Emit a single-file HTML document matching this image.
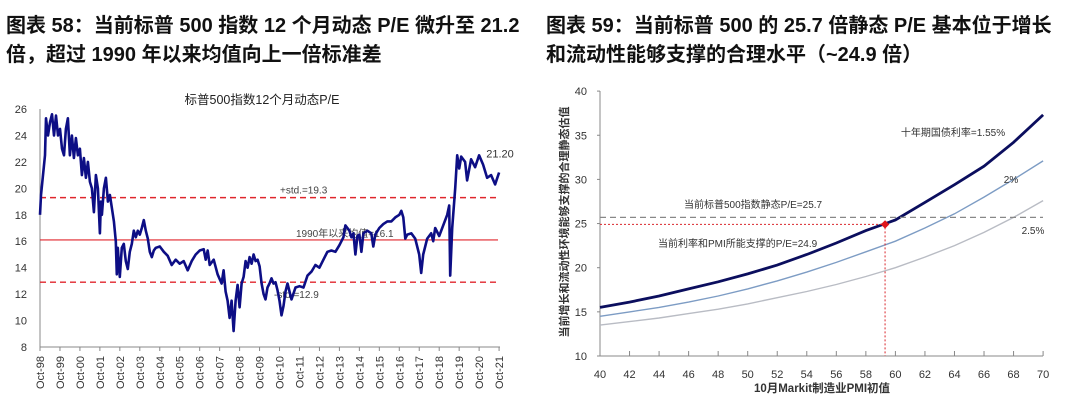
<!DOCTYPE html>
<html><head><meta charset="utf-8">
<style>
body{margin:0;background:#fff;width:1074px;height:407px;overflow:hidden;font-family:"Liberation Sans","Noto Sans CJK SC",sans-serif}
.h{position:absolute;font-weight:bold;font-size:20px;color:#111;white-space:nowrap;letter-spacing:0px}
svg{position:absolute;left:0;top:0}
</style></head><body>
<div class="h" style="left:6px;top:9px">图表 58：当前标普 500 指数 12 个月动态 P/E 微升至 21.2</div>
<div class="h" style="left:6px;top:38px">倍，超过 1990 年以来均值向上一倍标准差</div>
<div class="h" style="left:546px;top:9px">图表 59：当前标普 500 的 25.7 倍静态 P/E 基本位于增长</div>
<div class="h" style="left:546px;top:38px">和流动性能够支撑的合理水平（~24.9 倍）</div>
<svg id="c" width="1074" height="407" font-family="Liberation Sans, Noto Sans CJK SC, sans-serif"></svg>
<script>
// Left chart data: [years since Oct-98, P/E]
const peT=[0,0.05,0.15,0.25,0.3,0.4,0.5,0.6,0.7,0.8,0.9,1.0,1.1,1.2,1.3,1.4,1.5,1.6,1.7,1.8,1.9,2.0,2.1,2.2,2.3,2.4,2.5,2.6,2.7,2.8,2.9,3.0,3.05,3.1,3.2,3.3,3.4,3.5,3.6,3.7,3.8,3.85,3.9,4.0,4.1,4.2,4.3,4.4,4.5,4.6,4.7,4.8,4.9,5.0,5.1,5.2,5.3,5.4,5.5,5.6,5.7,5.8,6.0,6.2,6.4,6.6,6.8,7.0,7.2,7.4,7.6,7.8,8.0,8.2,8.3,8.4,8.5,8.7,8.9,9.1,9.2,9.3,9.4,9.5,9.6,9.7,9.8,9.9,10.0,10.1,10.2,10.3,10.4,10.5,10.6,10.7,10.8,10.9,11.0,11.1,11.2,11.3,11.4,11.5,11.6,11.7,11.8,11.9,12.0,12.1,12.2,12.3,12.4,12.5,12.6,12.8,13.0,13.2,13.4,13.6,13.8,14.0,14.2,14.4,14.6,14.8,15.0,15.2,15.3,15.5,15.6,15.7,15.8,15.9,16.0,16.1,16.2,16.4,16.6,16.7,16.8,17.0,17.2,17.4,17.6,17.8,18.0,18.1,18.2,18.3,18.4,18.6,18.8,19.0,19.1,19.2,19.4,19.6,19.7,19.8,20.0,20.2,20.4,20.5,20.55,20.65,20.8,20.9,21.0,21.1,21.3,21.4,21.6,21.8,22.0,22.2,22.4,22.6,22.8,23.0];
const peV=[18.0,19.5,21,22.5,25.3,24,25,25.6,24,25.5,24,24.5,23,22.5,24.5,25.3,22.5,24,22.3,23.8,22.5,23,21,22.3,20.8,22,20.5,20,18.2,21,20,16.6,19,18,20,20.8,19,19.5,18.5,17.5,16,13.5,15.5,13.3,15.5,15.8,14.5,13.9,15.2,15.8,16.8,16.3,16.8,16.5,17,17.6,16.8,16.2,15.2,14.8,15.3,15.5,15.6,15.2,14.9,14.2,14.6,14.3,14.5,13.8,14.5,15,15.3,15.4,14.6,15.3,14.2,14.6,13.5,12.8,13.8,12.2,11.5,10.2,11.5,9.2,11.5,12.7,11.0,12.8,13.3,14.5,14,14.8,14.3,15,14.5,14.6,14.1,12.8,12,11.6,12.5,12.8,13.2,12.8,12.9,12.3,11.5,10.4,11.1,12.2,12.8,12.2,11.6,12.5,12.6,12.5,13.4,13.7,14.2,14,14.6,15.2,15.3,15.2,15.7,16.3,17.2,16.8,16.3,16.6,15.0,16.4,16.5,15.2,16.6,16.8,16.6,15.6,16.5,17,17.3,17.5,17.5,17.8,18,18.3,17.8,16.2,16.5,16.6,16.2,15.0,13.6,15,16.2,16.6,16,17,16.4,17.2,18,18.7,13.4,17,20,22.5,21.5,22.4,22,20.6,22.2,21.6,22.5,21.8,20.8,21,20.3,21.2];
const yLeftTicks=[8,10,12,14,16,18,20,22,24,26];
const xLeftLabels=["Oct-98","Oct-99","Oct-00","Oct-01","Oct-02","Oct-03","Oct-04","Oct-05","Oct-06","Oct-07","Oct-08","Oct-09","Oct-10","Oct-11","Oct-12","Oct-13","Oct-14","Oct-15","Oct-16","Oct-17","Oct-18","Oct-19","Oct-20","Oct-21"];
const meanPE=16.1, plusStd=19.3, minusStd=12.9, lastPE=21.20;
// Right chart data
const pmi=[40,42,44,46,48,50,52,54,56,58,60,62,64,66,68,70];
const pe155=[15.5,16.1,16.8,17.6,18.4,19.3,20.3,21.5,22.8,24.2,25.4,27.4,29.4,31.5,34.2,37.3];
const pe2=[14.5,15.0,15.5,16.1,16.8,17.6,18.5,19.5,20.6,21.8,23.0,24.5,26.1,28.0,30.0,32.1];
const pe25=[13.5,13.9,14.3,14.8,15.3,15.9,16.6,17.3,18.1,19.0,20.0,21.2,22.5,24.0,25.7,27.6];
const yRightTicks=[10,15,20,25,30,35,40];
const xRightTicks=[40,42,44,46,48,50,52,54,56,58,60,62,64,66,68,70];
const curPE=25.7, curPMI=59.3, fairPE=24.9;

const S=document.getElementById('c'),NS='http://www.w3.org/2000/svg';
function mk(t,a,p){const e=document.createElementNS(NS,t);for(const k in a)e.setAttribute(k,a[k]);(p||S).appendChild(e);return e;}
// left axes
const lx=t=>40+t*19.96, ly=v=>347-(v-8)*13.22;
const gL=mk('g',{});


let t=mk('text',{x:262,y:104,'text-anchor':'middle','font-size':12.5,fill:'#222'},gL);t.textContent='标普500指数12个月动态P/E';

mk('line',{x1:40,y1:109,x2:40,y2:347,stroke:'#888'},gL);
mk('line',{x1:40,y1:347,x2:500,y2:347,stroke:'#888'},gL);
yLeftTicks.forEach(v=>{const e=mk('text',{x:27,y:ly(v)+4,'text-anchor':'end','font-size':11,fill:'#333'},gL);e.textContent=v;
});
xLeftLabels.forEach((s,i)=>{const x=lx(i);mk('line',{x1:x,y1:347,x2:x,y2:351,stroke:'#888'},gL);
const e=mk('text',{x:0,y:0,'text-anchor':'end','font-size':11,fill:'#333',transform:`translate(${x+4},${356}) rotate(-90)`},gL);e.textContent=s;
});
let l=mk('line',{x1:40,x2:498,y1:ly(plusStd),y2:ly(plusStd),stroke:'#e0262c','stroke-width':1.4,'stroke-dasharray':'6,4'},gL);

l=mk('line',{x1:40,x2:498,y1:ly(minusStd),y2:ly(minusStd),stroke:'#e0262c','stroke-width':1.4,'stroke-dasharray':'6,4'},gL);

l=mk('line',{x1:40,x2:498,y1:ly(meanPE),y2:ly(meanPE),stroke:'#e0262c','stroke-width':1.2},gL);

t=mk('text',{x:280,y:ly(plusStd)-4,'font-size':10,fill:'#444'},gL);t.textContent='+std.='+plusStd;

t=mk('text',{x:296,y:ly(meanPE)-3,'font-size':10,fill:'#444'},gL);t.textContent='1990年以来均值='+meanPE;

t=mk('text',{x:274,y:ly(minusStd)+16,'font-size':10,fill:'#444'},gL);t.textContent='-std.='+minusStd;

let p=mk('path',{d:peT.map((v,i)=>(i?'L':'M')+lx(v).toFixed(1)+','+ly(peV[i]).toFixed(1)).join(''),fill:'none',stroke:'#0d0e85','stroke-width':2.6,'stroke-linejoin':'round'},gL);

t=mk('text',{x:500,y:ly(lastPE)-15,'text-anchor':'middle','font-size':11,fill:'#333'},gL);t.textContent=lastPE.toFixed(2);

// right chart
const rx=v=>600+(v-40)*14.77, ry=v=>356-(v-10)*8.83;
const gR=mk('g',{});


mk('line',{x1:600,y1:91,x2:600,y2:356,stroke:'#888'},gR);
mk('line',{x1:600,y1:356,x2:1043,y2:356,stroke:'#888'},gR);
yRightTicks.forEach(v=>{mk('line',{x1:597,x2:600,y1:ry(v),y2:ry(v),stroke:'#888'},gR);const e=mk('text',{x:587,y:ry(v)+4,'text-anchor':'end','font-size':11,fill:'#333'},gR);e.textContent=v;
});
xRightTicks.forEach(v=>{mk('line',{x1:rx(v),x2:rx(v),y1:351,y2:356,stroke:'#888'},gR);const e=mk('text',{x:rx(v),y:378,'text-anchor':'middle','font-size':11,fill:'#333'},gR);e.textContent=v;
});
t=mk('text',{x:822,y:392,'text-anchor':'middle','font-size':11.5,'font-weight':'bold',fill:'#333'},gR);t.textContent='10月Markit制造业PMI初值';

t=mk('text',{x:0,y:0,'text-anchor':'middle','font-size':11,'font-weight':'bold',fill:'#333',transform:'translate(568,222) rotate(-90)'},gR);t.textContent='当前增长和流动性环境能够支撑的合理静态估值';

const line=(arr,c,w,n)=>{const e=mk('path',{d:pmi.map((x,i)=>(i?'L':'M')+rx(x).toFixed(1)+','+ry(arr[i]).toFixed(1)).join(''),fill:'none',stroke:c,'stroke-width':w},gR);
};
line(pe25,'#b9bcc4',1.4,'curve-2-5pct');line(pe2,'#7d9cc4',1.4,'curve-2pct');line(pe155,'#0b0e5e',2.8,'curve-1-55pct');
l=mk('line',{x1:600,x2:1043,y1:ry(curPE),y2:ry(curPE),stroke:'#888','stroke-width':1.3,'stroke-dasharray':'6,4'},gR);

mk('polyline',{points:`600,${ry(fairPE)} ${rx(curPMI)},${ry(fairPE)} ${rx(curPMI)},356`,fill:'none',stroke:'#d9262c','stroke-width':1,'stroke-dasharray':'2,2'},gR);
let d=mk('rect',{x:rx(curPMI)-3,y:ry(fairPE)-3,width:6,height:6,fill:'#e0151b',transform:`rotate(45 ${rx(curPMI)} ${ry(fairPE)})`},gR);

[['十年期国债利率=1.55%',953,136,'middle','label-1-55pct'],['2%',1011,183,'middle','label-2pct'],['2.5%',1033,234,'middle','label-2-5pct'],['当前标普500指数静态P/E=25.7',684,208,'start','current-pe-label'],['当前利率和PMI所能支撑的P/E=24.9',658,247,'start','fair-pe-label']].forEach(a=>{
const e=mk('text',{x:a[1],y:a[2],'text-anchor':a[3],'font-size':10,fill:'#333'},gR);e.textContent=a[0];
});
</script>
</body></html>
